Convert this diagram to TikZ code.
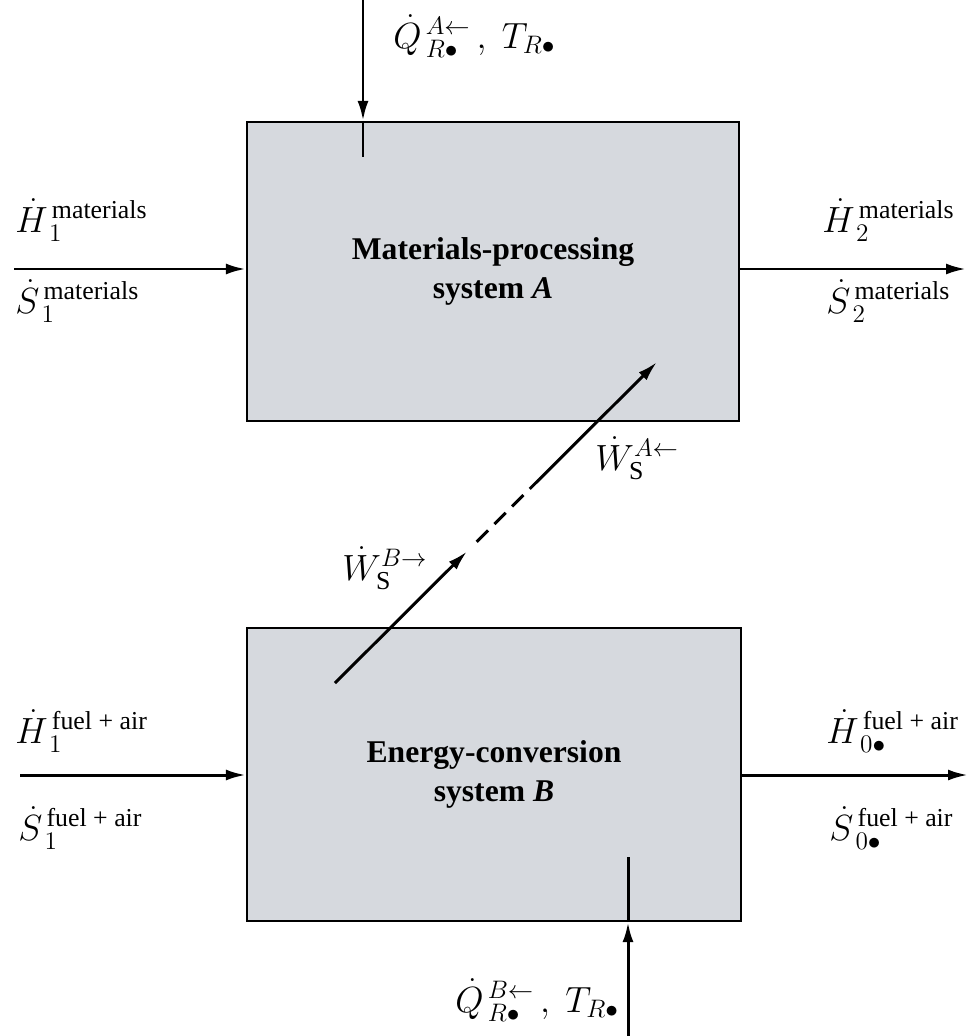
\documentclass[tikz,border=0pt]{standalone}
\usepackage{amsmath}
\usepackage{fontspec}
\setmainfont{Liberation Serif}
\usetikzlibrary{arrows.meta,calc}

\definecolor{boxgray}{RGB}{214,217,222}

\begin{document}
\begin{tikzpicture}[x=0.2mm, y=-0.2mm,
    >={Latex[length=4mm,width=2.2mm]},
    sys/.style={draw, line width=1.3pt, fill=boxgray, align=center, font=\fontsize{18}{22}\selectfont\bfseries},
    flow/.style={->, draw, black, line width=1.7pt},
    pipe/.style={draw, black, line width=1.7pt},
    lbl/.style={anchor=base west, inner sep=0pt, font=\fontsize{21}{25}\selectfont}]

\useasboundingbox (0,0) rectangle (968,1036);

\node [sys, minimum width=98.4mm, minimum height=59.8mm] (sysA) at (493,271.5) {Materials-processing\\system \textit{A}};
\node [sys, minimum width=98.8mm, minimum height=58.6mm] (sysB) at (494,774.5) {Energy-conversion\\system \textit{B}};

\coordinate (qA) at (363,0);
\coordinate (qAend) at (363,157);
\coordinate (qB) at (628,1036);
\coordinate (qBend) at (628,857);
\coordinate (inA) at (14,269);
\coordinate (outA) at (966,269);
\coordinate (inB) at (20,775);
\coordinate (outB) at (968,775);
\coordinate (wB) at (335,683);
\coordinate (wA) at (657,362);

\draw [flow] (qA) -- (qA |- sysA.north);
\draw [pipe] (qA |- sysA.north) -- (qAend);
\draw [flow] (qB) -- (qB |- sysB.south);
\draw [pipe] (qB |- sysB.south) -- (qBend);
\draw [flow] (inA) -- (inA -| sysA.west);
\draw [flow] (outA -| sysA.east) -- (outA);
\draw [flow] (inB) -- (inB -| sysB.west);
\draw [flow] (outB -| sysB.east) -- (outB);
\draw [flow] (wB) -- ($(wB)!0.41!(wA)$);
\draw [pipe, dash pattern=on 3.2mm off 1.8mm] ($(wB)!0.44!(wA)$) -- ($(wB)!0.635!(wA)$);
\draw [flow] ($(wB)!0.635!(wA)$) -- (wA);

\node [lbl] (qAl) at (393,48) {$\dot{Q}_{\,R\bullet}^{\,A\leftarrow}\,,\ T_{R\bullet}$};
\node [lbl] (qBl) at (455,1012) {$\dot{Q}_{\,R\bullet}^{\,B\leftarrow}\,,\ T_{R\bullet}$};
\node [lbl] (hA1) at (15,232) {$\dot{H}_{\,1}^{\,\text{materials}}$};
\node [lbl] (sA1) at (15,313) {$\dot{S}_{\,1}^{\,\text{materials}}$};
\node [lbl] (hA2) at (822,232) {$\dot{H}_{\,2}^{\,\text{materials}}$};
\node [lbl] (sA2) at (826,313) {$\dot{S}_{\,2}^{\,\text{materials}}$};
\node [lbl] (hB1) at (15,743) {$\dot{H}_{\,1}^{\,\text{fuel + air}}$};
\node [lbl] (sB1) at (18,840) {$\dot{S}_{\,1}^{\,\text{fuel + air}}$};
\node [lbl] (hB0) at (826,743) {$\dot{H}_{\,0\bullet}^{\,\text{fuel + air}}$};
\node [lbl] (sB0) at (829,840) {$\dot{S}_{\,0\bullet}^{\,\text{fuel + air}}$};
\node [lbl] (wAl) at (595,470) {$\dot{W}_{\mathrm{S}}^{A\leftarrow}$};
\node [lbl] (wBl) at (342,580) {$\dot{W}_{\mathrm{S}}^{B\rightarrow}$};

\end{tikzpicture}
\end{document}
